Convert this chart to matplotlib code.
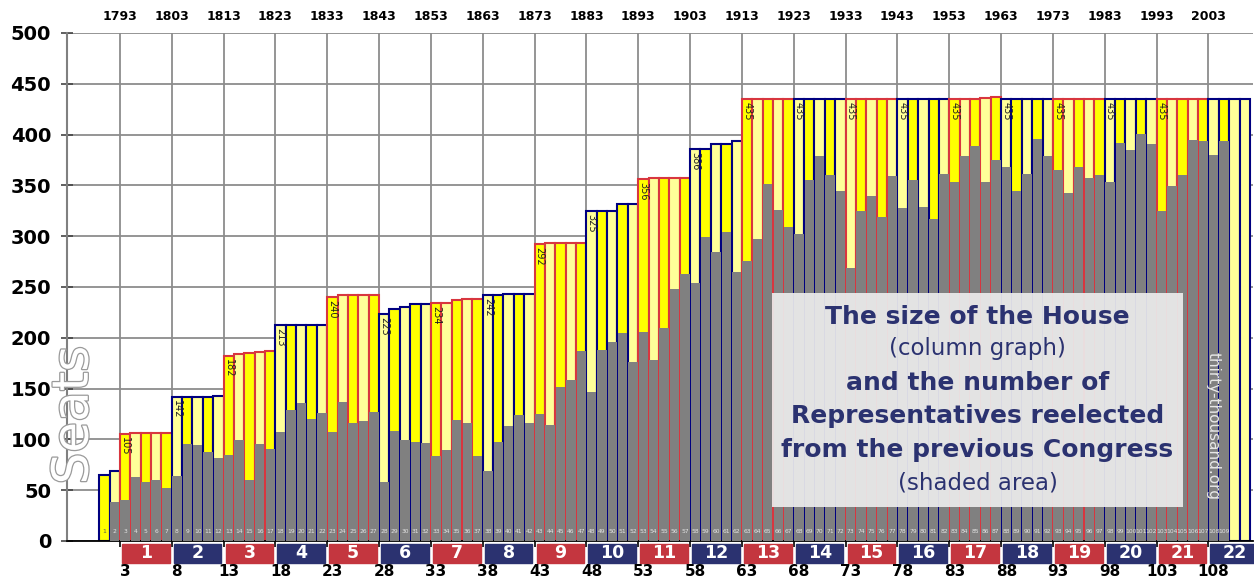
import matplotlib
matplotlib.use("Agg")
import matplotlib.pyplot as plt
import matplotlib.patheffects as pe
from matplotlib.patches import Rectangle
import numpy as np

plt.rcParams['font.family'] = ['DejaVu Sans']

# ---- data ---- #
congress = list(range(1, 112))

house_size = [65, 69,
              105, 106, 106, 106, 106,
              142, 142, 142, 142, 143,
              182, 184, 185, 186, 187,
              213, 213, 213, 213, 213,
              240, 242, 242, 242, 242,
              223, 228, 230, 233, 233,
              234, 234, 237, 238, 238,
              242, 242, 243, 243, 243,
              292, 293, 293, 293, 293,
              325, 325, 325, 332, 332,
              356, 357, 357, 357, 357,
              386, 386, 391, 391, 394] + [435] * 23 + [436, 437] + [435] * 24

# representatives reelected from the previous congress (none known for 1, 110, 111)
reelected = [np.nan, 38,
             40, 63, 58, 60, 52,
             64, 95, 94, 88, 82,
             85, 99, 60, 95, 91,
             107, 129, 136, 120, 126,
             107, 137, 116, 118, 127,
             58, 108, 99, 97, 96,
             84, 90, 119, 116, 84,
             69, 97, 113, 124, 116,
             125, 114, 152, 158, 187,
             147, 188, 196, 205, 176,
             206, 178, 210, 248, 263,
             254, 299, 284, 304, 265,
             276, 297, 351, 326, 309,
             302, 355, 379, 360, 344,
             269, 325, 340, 319, 359,
             328, 355, 329, 317, 361,
             353, 379, 389, 353, 375,
             368, 344, 361, 396, 379,
             365, 343, 368, 357, 360,
             353, 392, 385, 401, 391,
             325, 349, 360, 395, 394,
             380, 394, np.nan, np.nan]

# 1 = bright yellow column, 0 = pale column
bright = [1 if n % 2 else 0 for n in range(1, 73)] + \
         [0, 1, 0, 1, 0, 0, 1, 0, 1, 0] + \
         [1 if n % 2 else 0 for n in range(83, 110)] + [0, 0]

apportionment = list(range(1, 23))          # boxes along the bottom
first_congress = [3 + 5 * i for i in range(22)]
years = [1793 + 10 * i for i in range(22)]

# ---- colours ---- #
RED_EDGE, NAVY_EDGE = '#D8363F', '#000080'
RED_BOX, NAVY_BOX = '#C4363F', '#2B3270'
TXT_NAVY = '#2B3270'


def group_of(n):
    return 0 if n < 3 else (n - 3) // 5 + 1


edges = [RED_EDGE if group_of(n) % 2 == 1 else NAVY_EDGE for n in congress]
faces = ['#FFFF00' if b else '#FFFF99' for b in bright]

fig = plt.figure(figsize=(12.54, 5.79), dpi=100)
ax = fig.add_axes([67 / 1254, 38 / 579, 1186 / 1254, 508 / 579])

# columns = size of the house #
ax.bar(congress, house_size, width=1, color=faces, edgecolor=edges,
       linewidth=1.5, zorder=2)
# shaded = reelected #
ax.bar(congress, reelected, width=0.9, color='#808080', linewidth=0, zorder=3)

# size labels on the first column of each apportionment #
for n in first_congress[:-1]:
    ax.text(n, house_size[n - 1] - 3, str(house_size[n - 1]), rotation=270,
            ha='center', va='top', fontsize=7, color='#222222', zorder=4)

# congress numbers at the foot of the columns #
for n in congress[:109]:
    ax.text(n, 9, str(n), ha='center', va='center', fontsize=4.3,
            color='#555555' if n == 1 else '#E4E4E4', zorder=4)

ax.set_xlim(-2.6, 111.8)
ax.set_ylim(0, 500)
ax.set_yticks(range(0, 501, 50))
ax.set_xticks([2.5 + 5 * i for i in range(22)])
ax.set_xticklabels([])
ax.tick_params(axis='x', direction='out', length=4, color='black', width=1.2)
ax.tick_params(axis='y', direction='inout', length=9, color='#444444',
               width=1.2, pad=7, labelsize=14)
for lab in ax.get_yticklabels():
    lab.set_fontweight('bold')
ax.set_axisbelow(True)
ax.grid(True, color='#8C8C8C', linewidth=1.3)
for s in ['top', 'right']:
    ax.spines[s].set_visible(False)
ax.spines['left'].set_color('#808080')
ax.spines['left'].set_linewidth(1.5)
ax.spines['bottom'].set_color('black')
ax.spines['bottom'].set_linewidth(1.3)

# years along the top #
for x, yr in zip(ax.get_xticks(), years):
    ax.annotate(str(yr), (x, 1), xycoords=('data', 'axes fraction'),
                xytext=(0, 12), textcoords='offset points', ha='center',
                va='center', fontsize=9, fontweight='bold')

# apportionment boxes and congress numbers below #
for g, n in zip(apportionment, first_congress):
    col = RED_BOX if g % 2 else NAVY_BOX
    ax.add_patch(Rectangle((n - 0.3, -21.6), 4.6, 18.6, color=col,
                           clip_on=False, zorder=5))
    ax.text(n + 2, -12.3, str(g), ha='center', va='center', fontsize=12.5,
            fontweight='bold', color='white', clip_on=False, zorder=6)
    ax.text(n, -30.5, str(n), ha='center', va='center', fontsize=11,
            fontweight='bold', color='black', clip_on=False, zorder=6)

# Seats #
ax.text(-1.95, 124, 'Seats', rotation=90, ha='center', va='center',
        fontsize=36, color='white', zorder=6,
        path_effects=[pe.withStroke(linewidth=1.8, foreground='#9A9A9A')])

ax.text(107.95, 113, 'thirty-thousand.org', rotation=270, ha='center',
        va='center', fontsize=11, color='#E8E8E8', zorder=6)

# legend box #
fig.add_artist(Rectangle((772 / 1254, 72 / 579), 411 / 1254, 214 / 579,
                         transform=fig.transFigure, facecolor='#EBEBEB',
                         edgecolor='none', alpha=0.93, zorder=5))
lines = [('The size of the House', 'bold', 18, 317),
         ('(column graph)', 'normal', 16.5, 349),
         ('and the number of', 'bold', 18, 383),
         ('Representatives reelected', 'bold', 18, 416),
         ('from the previous Congress', 'bold', 18, 450),
         ('(shaded area)', 'normal', 16.5, 483)]
for txt, w, fs, ypx in lines:
    fig.text(977.5 / 1254, 1 - ypx / 579, txt, ha='center', va='center',
             fontsize=fs, fontweight=w, color=TXT_NAVY, zorder=6)

fig.savefig('out.png', dpi=100)
